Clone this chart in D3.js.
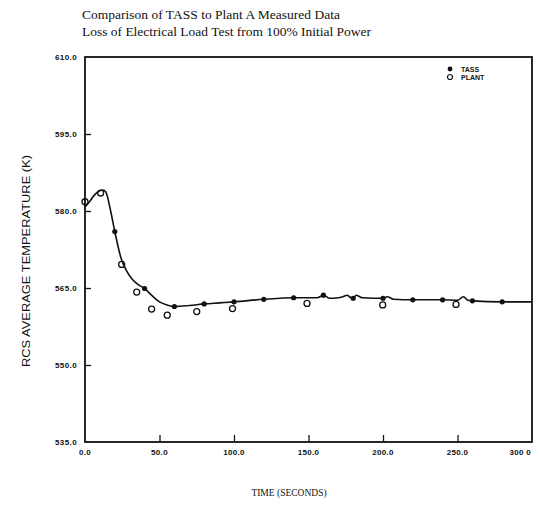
<!DOCTYPE html>
<html>
<head>
<meta charset="utf-8">
<script src="https://cdn.jsdelivr.net/npm/d3@7"></script>
<style>
  html, body { margin: 0; padding: 0; background: #fff; }
  svg { display: block; }
</style>
</head>
<body>
<svg id="chart" width="540" height="507"></svg>
<script>
// TASS simulation trace (time in s, RCS average temperature)
const tassTime = [0, 3, 6, 9, 12, 14, 17, 20, 24, 28, 32, 36, 40, 45, 50, 55, 60, 70, 80, 90, 100,
  120, 140, 150, 156, 160, 164, 170, 173, 176, 178, 180, 182, 186, 200, 203, 207, 220, 240,
  250, 254, 257, 260, 280, 300];
const tassTemp = [580.8, 581.8, 583.0, 583.8, 584.1, 583.7, 580.3, 576.0, 571.0, 568.3, 566.6, 565.6, 564.9,
  563.5, 562.3, 561.7, 561.4, 561.6, 561.9, 562.1, 562.3,
  562.8, 563.1, 563.1, 563.1, 563.6, 563.0, 563.1, 563.3, 563.6, 563.2, 563.0, 563.6, 563.1, 563.0,
  563.3, 562.8, 562.7, 562.7,
  562.6, 563.3, 562.6, 562.5, 562.3, 562.3];

// TASS plotted symbols, every 20 s
const tassMarkTime = [20, 40, 60, 80, 100, 120, 140, 160, 180, 200, 220, 240, 260, 280];
const tassMarkTemp = [576.0, 564.9, 561.4, 561.9, 562.3, 562.8, 563.1, 563.6, 563.0, 563.0, 562.7, 562.7, 562.5, 562.3];

// Plant A measured data
const plantTime = [0, 10.5, 24.6, 34.7, 44.7, 55.2, 75, 99, 149, 199.8, 249];
const plantTemp = [581.8, 583.5, 569.6, 564.2, 560.9, 559.7, 560.4, 561.0, 562.0, 561.7, 561.8];

// Axis ticks
const xTicks = [0, 50, 100, 150, 200, 250, 300];
const xTickLabels = ["0.0", "50.0", "100.0", "150.0", "200.0", "250.0", "300 0"];
const yTicks = [535, 550, 565, 580, 595, 610];
const yTickLabels = ["535.0", "550.0", "565.0", "580.0", "595.0", "610.0"];

const titleLines = ["Comparison of TASS to Plant A Measured Data",
                    "Loss of Electrical Load Test from 100% Initial Power"];
const legendLabels = ["TASS", "PLANT"];

const svg = d3.select("#chart");
const plot = { left: 85, right: 532, top: 57, bottom: 442 };

const x = d3.scaleLinear().domain([0, 300]).range([plot.left, plot.right]);
const y = d3.scaleLinear().domain([535, 610]).range([plot.bottom, plot.top]);

const ink = "#111";

// Titles
svg.selectAll("text.title").data(titleLines).join("text")
  .attr("class", "title")
  .attr("x", 82)
  .attr("y", (d, i) => 19 + i * 17)
  .attr("font-family", "'Liberation Serif', serif")
  .attr("font-size", 11.5)
  .attr("textLength", (d, i) => i === 0 ? 258 : 289)
  .attr("lengthAdjust", "spacingAndGlyphs")
  .attr("fill", ink)
  .text(d => d);

// Ticks (inward) and labels
const xAxis = d3.axisBottom(x).tickValues(xTicks.slice(1, -1)).tickSize(-7).tickFormat("");
svg.append("g").attr("transform", `translate(0,${plot.bottom})`).call(xAxis)
  .call(g => g.select(".domain").remove())
  .call(g => g.selectAll("line").attr("stroke", ink).attr("stroke-width", 1.3));

const yAxis = d3.axisLeft(y).tickValues(yTicks.slice(1, -1)).tickSize(-6).tickFormat("");
svg.append("g").attr("transform", `translate(${plot.left},0)`).call(yAxis)
  .call(g => g.select(".domain").remove())
  .call(g => g.selectAll("line").attr("stroke", ink).attr("stroke-width", 1.3));

svg.selectAll("text.xlab").data(xTicks).join("text")
  .attr("class", "xlab")
  .attr("x", (d, i) => i === xTicks.length - 1 ? x(d) - 1 : x(d))
  .attr("y", 455)
  .attr("text-anchor", (d, i) => i === xTicks.length - 1 ? "end" : "middle")
  .attr("font-family", "'Liberation Sans', sans-serif")
  .attr("font-weight", "bold")
  .attr("font-size", 8)
  .attr("letter-spacing", 0.3)
  .attr("fill", ink)
  .text((d, i) => xTickLabels[i]);

svg.selectAll("text.ylab").data(yTicks).join("text")
  .attr("class", "ylab")
  .attr("x", 77)
  .attr("y", d => y(d) + 3)
  .attr("text-anchor", "end")
  .attr("font-family", "'Liberation Sans', sans-serif")
  .attr("font-weight", "bold")
  .attr("font-size", 8)
  .attr("letter-spacing", 0.4)
  .attr("fill", ink)
  .text((d, i) => yTickLabels[i]);

// Axis titles
svg.append("text")
  .attr("x", 289).attr("y", 496)
  .attr("text-anchor", "middle")
  .attr("font-family", "'Liberation Serif', serif")
  .attr("font-size", 9.5)
  .attr("fill", ink)
  .text("TIME (SECONDS)");

svg.append("text")
  .attr("transform", "translate(30,261) rotate(-90)")
  .attr("text-anchor", "middle")
  .attr("font-family", "'Liberation Sans', sans-serif")
  .attr("font-size", 11)
  .attr("textLength", 212)
  .attr("lengthAdjust", "spacingAndGlyphs")
  .attr("fill", ink)
  .text("RCS AVERAGE TEMPERATURE (K)");

// Frame
svg.append("rect")
  .attr("x", plot.left).attr("y", plot.top)
  .attr("width", plot.right - plot.left).attr("height", plot.bottom - plot.top)
  .attr("fill", "none").attr("stroke", ink).attr("stroke-width", 1.8);

// TASS line
const tassData = tassTime.map((t, i) => [t, tassTemp[i]]);
svg.append("path")
  .datum(tassData)
  .attr("fill", "none")
  .attr("stroke", ink)
  .attr("stroke-width", 1.6)
  .attr("d", d3.line().x(d => x(d[0])).y(d => y(d[1])).curve(d3.curveMonotoneX));

// TASS symbols
svg.selectAll("circle.tass").data(tassMarkTime).join("circle")
  .attr("class", "tass")
  .attr("cx", d => x(d))
  .attr("cy", (d, i) => y(tassMarkTemp[i]))
  .attr("r", 2.6)
  .attr("fill", ink);

// Plant symbols
svg.selectAll("circle.plant").data(plantTime).join("circle")
  .attr("class", "plant")
  .attr("cx", d => x(d))
  .attr("cy", (d, i) => y(plantTemp[i]))
  .attr("r", 3)
  .attr("fill", "none")
  .attr("stroke", ink)
  .attr("stroke-width", 1.3);

// Legend
const legend = svg.append("g").attr("transform", "translate(450,69)");
legend.append("circle").attr("cx", 0).attr("cy", 0).attr("r", 2.4).attr("fill", ink);
legend.append("circle").attr("cx", 0).attr("cy", 8).attr("r", 2.5)
  .attr("fill", "none").attr("stroke", ink).attr("stroke-width", 1.2);
legend.selectAll("text").data(legendLabels).join("text")
  .attr("x", 11)
  .attr("y", (d, i) => i * 8 + 2.5)
  .attr("font-family", "'Liberation Sans', sans-serif")
  .attr("font-weight", "bold")
  .attr("font-size", 7)
  .attr("fill", ink)
  .text(d => d);
</script>
</body>
</html>
